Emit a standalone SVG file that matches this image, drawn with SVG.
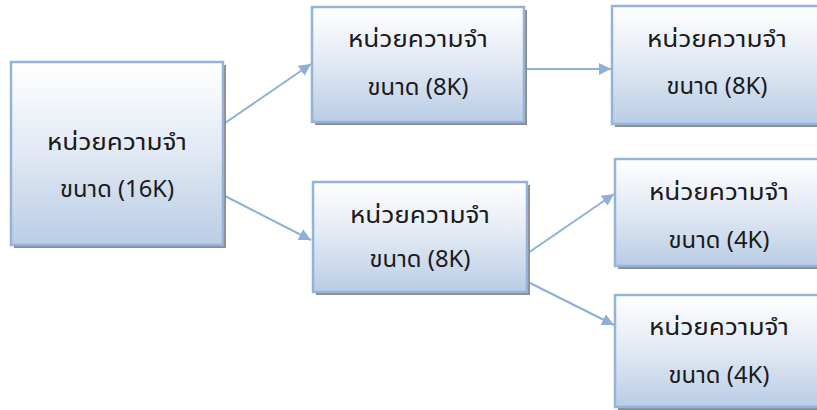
<svg xmlns="http://www.w3.org/2000/svg" width="817" height="410" viewBox="0 0 817 410">
<defs>
<linearGradient id="g" x1="0" y1="0" x2="0" y2="1">
<stop offset="0" stop-color="#ffffff"/>
<stop offset="0.45" stop-color="#e4ebf5"/>
<stop offset="1" stop-color="#b9cde5"/>
</linearGradient>
<marker id="ah" viewBox="0 0 10 10" refX="10" refY="5" markerWidth="6" markerHeight="6" markerUnits="strokeWidth" orient="auto">
<path d="M0,0 L10,5 L0,10 z" fill="#8eb0d8"/>
</marker>
<style>
.sh{fill:#8c8c8c;}
.bx{fill:url(#g);stroke:#95b3d7;stroke-width:2.5;}
.t{font-family:"Noto Sans Thai","Noto Sans","DejaVu Sans",sans-serif;font-size:23px;fill:#1a1a1a;text-anchor:middle;}
.c{stroke:#8eb0d8;stroke-width:2;fill:none;marker-end:url(#ah);}
</style>
</defs>
<rect width="817" height="410" fill="#ffffff"/>
<g id="connectors">
<line class="c" x1="225" y1="123" x2="311" y2="64"/>
<line class="c" x1="225" y1="196" x2="311" y2="240"/>
<line class="c" x1="526" y1="69" x2="611" y2="69"/>
<line class="c" x1="528" y1="253" x2="614" y2="194"/>
<line class="c" x1="528" y1="282" x2="614" y2="325"/>
</g>
<g id="n16k">
<rect class="sh" x="14" y="65" width="212" height="183"/>
<rect class="bx" x="11" y="62" width="212" height="183"/>
<text class="t" x="117" y="150" textLength="140" lengthAdjust="spacingAndGlyphs">หน่วยความจำ</text>
<text class="t" x="117" y="197" textLength="114" lengthAdjust="spacingAndGlyphs">ขนาด (16K)</text>
</g>
<g id="n8k_top">
<rect class="sh" x="315" y="10" width="212" height="115"/>
<rect class="bx" x="312" y="7" width="212" height="115"/>
<text class="t" x="418" y="47" textLength="140" lengthAdjust="spacingAndGlyphs">หน่วยความจำ</text>
<text class="t" x="418" y="95" textLength="101" lengthAdjust="spacingAndGlyphs">ขนาด (8K)</text>
</g>
<g id="n8k_right">
<rect class="sh" x="615" y="9" width="212" height="118"/>
<rect class="bx" x="612" y="6" width="212" height="118"/>
<text class="t" x="717" y="47" textLength="140" lengthAdjust="spacingAndGlyphs">หน่วยความจำ</text>
<text class="t" x="717" y="94" textLength="101" lengthAdjust="spacingAndGlyphs">ขนาด (8K)</text>
</g>
<g id="n8k_mid">
<rect class="sh" x="316" y="185" width="214" height="110"/>
<rect class="bx" x="313" y="182" width="214" height="110"/>
<text class="t" x="420" y="223" textLength="140" lengthAdjust="spacingAndGlyphs">หน่วยความจำ</text>
<text class="t" x="420" y="267" textLength="101" lengthAdjust="spacingAndGlyphs">ขนาด (8K)</text>
</g>
<g id="n4k_a">
<rect class="sh" x="618" y="162" width="212" height="107"/>
<rect class="bx" x="615" y="159" width="212" height="107"/>
<text class="t" x="719" y="200" textLength="140" lengthAdjust="spacingAndGlyphs">หน่วยความจำ</text>
<text class="t" x="719" y="248" textLength="101" lengthAdjust="spacingAndGlyphs">ขนาด (4K)</text>
</g>
<g id="n4k_b">
<rect class="sh" x="618" y="298" width="212" height="112"/>
<rect class="bx" x="615" y="295" width="212" height="112"/>
<text class="t" x="719" y="335" textLength="140" lengthAdjust="spacingAndGlyphs">หน่วยความจำ</text>
<text class="t" x="719" y="383" textLength="101" lengthAdjust="spacingAndGlyphs">ขนาด (4K)</text>
</g>
</svg>
